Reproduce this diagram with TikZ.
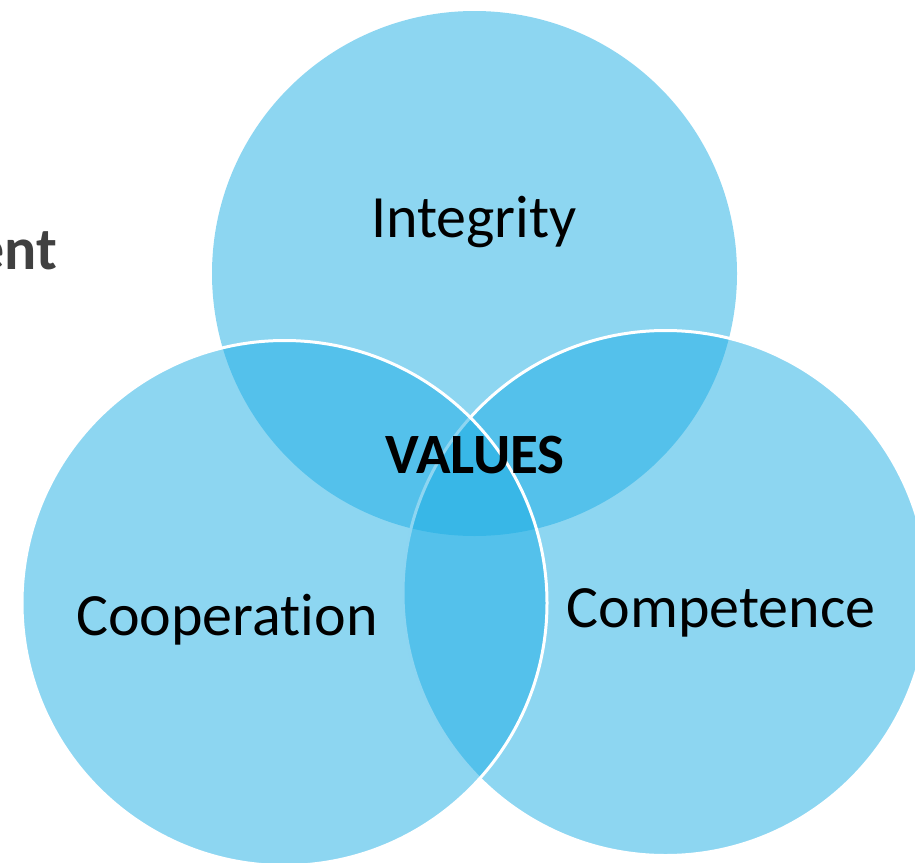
\documentclass[tikz,border=0pt]{standalone}
\usepackage{fontspec}
\setmainfont{Carlito}[Ligatures=NoCommon]
\definecolor{vennblue}{HTML}{1CADE4}
\definecolor{darkgray}{HTML}{404040}
\tikzset{
  venn/.style={fill=vennblue, fill opacity=0.5},
  vennline/.style={draw=white, line width=3pt},
  label/.style={text=black, inner sep=0pt, font=\fontsize{60}{72}\selectfont},
  boldlabel/.style={text=black, inner sep=0pt, font=\bfseries\fontsize{57}{68}\selectfont}
}
\begin{document}
\begin{tikzpicture}[x=1pt,y=-1pt]
\useasboundingbox (0,0) rectangle (915,862);
\clip (0,0) rectangle (915,862);
% circles: top, right, left (drawing order)
\coordinate (ctop) at (474.5,273.5);
\coordinate (cright) at (665.5,593);
\coordinate (cleft) at (284.5,603);
\fill[venn] (ctop) circle[radius=262.5pt];
\fill[venn] (cright) circle[radius=262.5pt];
\draw[vennline] (cright) circle[radius=262.5pt];
\fill[venn] (cleft) circle[radius=262.5pt];
\draw[vennline] (cleft) circle[radius=262.5pt];
% texts
\node[label, anchor=base] (integrity) at (474,237) {Integrity};
\node[label, anchor=base] (cooperation) at (227,635) {Cooperation};
\node[label, anchor=base] (competence) at (721,627) {Competence};
\node[boldlabel, anchor=base] (values) at (475,473) {VALUES};
\node[text=darkgray, inner sep=0pt, font=\bfseries\fontsize{60}{72}\selectfont, anchor=base east] (ent) at (57,269) {ent};
\end{tikzpicture}
\end{document}
